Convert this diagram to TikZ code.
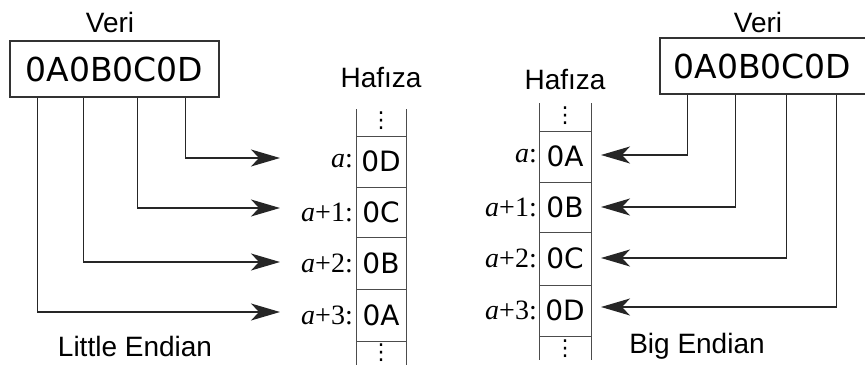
\documentclass[tikz,border=0pt]{standalone}
\usepackage{fontspec}
\newfontfamily\labelfont{Liberation Sans}
\newfontfamily\hexfont{DejaVu Sans}
\newfontfamily\addrfont{Liberation Serif}
\usetikzlibrary{arrows.meta}
\begin{document}
\begin{tikzpicture}[x=1pt,y=-1pt,
  wire/.style={line width=1.3pt, black!85},
  arr/.style={wire, -{Stealth[length=29pt,width=17pt,inset=8pt]}},
  databox/.style={draw=black!80, line width=1.2pt, minimum width=209pt,
    minimum height=56pt, inner sep=0pt, font=\hexfont\fontsize{33}{36}\selectfont},
  title/.style={font=\labelfont\fontsize{28}{30}\selectfont, inner sep=0pt},
  cellv/.style={font=\hexfont\fontsize{28}{30}\selectfont, inner sep=0pt},
  addr/.style={font=\addrfont\fontsize{28}{30}\selectfont, anchor=east, inner sep=0pt},
  col/.style={line width=1pt, black!70},
  dots/.style={font=\hexfont\fontsize{22}{24}\selectfont, inner sep=0pt}
]
\useasboundingbox (0,0) rectangle (865,369);
\begin{scope}
\clip (0,0) rectangle (865,369);

% ---------- little endian: data word ----------
\node[title] (veriL) at (110,22) {Veri};
\node[databox] (dataL) at (114.5,69) {0A0B0C0D};

% ---------- little endian: memory column ----------
\node[title] (hafL) at (381,78) {Hafıza};
\draw[col] (356,109) -- (356,365);
\draw[col] (406,109) -- (406,365);
\foreach \y in {136,187,237,289,341} \draw[col] (356,\y) -- (406,\y);
\node[dots] (dotsLt) at (381,121) {⋮};
\node[dots] (dotsLb) at (381,353) {⋮};
\node[cellv] (mL1) at (381,161.5) {0D};
\node[cellv] (mL2) at (381,212) {0C};
\node[cellv] (mL3) at (381,263) {0B};
\node[cellv] (mL4) at (381,315) {0A};
\node[addr] (aL1) at (353,161.5) {\textit{a}:};
\node[addr] (aL2) at (353,212) {\textit{a}+1:};
\node[addr] (aL3) at (353,263) {\textit{a}+2:};
\node[addr] (aL4) at (353,315) {\textit{a}+3:};

\coordinate (tL1) at (280,158);
\coordinate (tL2) at (280,208);
\coordinate (tL3) at (280,262);
\coordinate (tL4) at (280,312);
\draw[arr] ([xshift=176pt]dataL.south west) |- (tL1);
\draw[arr] ([xshift=128pt]dataL.south west) |- (tL2);
\draw[arr] ([xshift=74pt]dataL.south west) |- (tL3);
\draw[arr] ([xshift=28pt]dataL.south west) |- (tL4);

\node[title] (little) at (135,346) {Little Endian};

% ---------- big endian: data word ----------
\node[title] (veriR) at (758,22) {Veri};
\node[databox, minimum width=210pt] (dataR) at (765,66) {\hspace*{-5pt}0A0B0C0D};

% ---------- big endian: memory column ----------
\node[title] (hafR) at (565,80) {Hafıza};
\draw[col] (539,103) -- (539,360);
\draw[col] (591,103) -- (591,360);
\foreach \y in {131,182,232,285,336} \draw[col] (539,\y) -- (591,\y);
\node[dots] (dotsRt) at (565,116) {⋮};
\node[dots] (dotsRb) at (565,349) {⋮};
\node[cellv] (mR1) at (565,156.5) {0A};
\node[cellv] (mR2) at (565,207) {0B};
\node[cellv] (mR3) at (565,258.5) {0C};
\node[cellv] (mR4) at (565,310.5) {0D};
\node[addr] (aR1) at (537,156.5) {\textit{a}:};
\node[addr] (aR2) at (537,207) {\textit{a}+1:};
\node[addr] (aR3) at (537,258.5) {\textit{a}+2:};
\node[addr] (aR4) at (537,310.5) {\textit{a}+3:};

\coordinate (tR1) at (601,155);
\coordinate (tR2) at (601,207);
\coordinate (tR3) at (601,258);
\coordinate (tR4) at (601,307);
\draw[arr] ([xshift=28pt]dataR.south west) |- (tR1);
\draw[arr] ([xshift=76pt]dataR.south west) |- (tR2);
\draw[arr] ([xshift=127pt]dataR.south west) |- (tR3);
\draw[arr] ([xshift=177pt]dataR.south west) |- (tR4);

\node[title] (big) at (697,346) {Big Endian};
\end{scope}
\end{tikzpicture}
\end{document}
